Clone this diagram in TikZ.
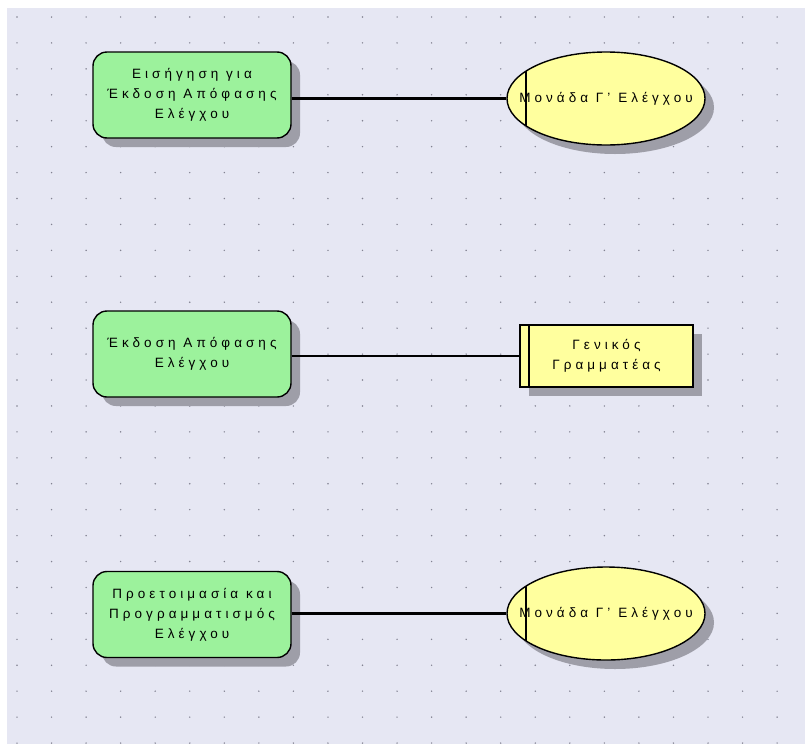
\documentclass[tikz,border=0pt]{standalone}
\usepackage{fontspec}
\setmainfont{Liberation Sans}
\usetikzlibrary{shapes.geometric,shadows}

\definecolor{canvasbg}{RGB}{230,231,243}
\definecolor{griddot}{RGB}{130,130,145}
\definecolor{actgreen}{RGB}{156,242,156}
\definecolor{roleyellow}{RGB}{255,255,158}
\definecolor{shadowgrey}{RGB}{158,158,168}

\tikzset{
  lbl/.style={font=\fontsize{13.5}{20}\selectfont\addfontfeature{LetterSpace=30}, align=center, text=black},
  sh/.style={drop shadow={shadow xshift=9pt, shadow yshift=-9pt, fill=shadowgrey, opacity=1}},
  activity/.style={lbl, sh, draw=black, line width=1.4pt, fill=actgreen,
    rounded corners=14pt, minimum width=198pt, minimum height=86pt, inner sep=0pt},
  unit/.style={lbl, sh, ellipse, draw=black, line width=1.4pt, fill=roleyellow,
    minimum width=198pt, minimum height=93pt, inner sep=0pt,
    path picture={\draw[line width=1.4pt] ([xshift=19pt]path picture bounding box.north west)
      -- ([xshift=19pt]path picture bounding box.south west);}},
  person/.style={lbl, sh, draw=black, line width=1.4pt, fill=roleyellow,
    minimum width=173pt, minimum height=62pt, inner sep=0pt,
    path picture={\draw[line width=1.4pt] ([xshift=9pt]path picture bounding box.north west)
      -- ([xshift=9pt]path picture bounding box.south west);}},
  link/.style={draw=black, line width=2.5pt}
}

\begin{document}
\begin{tikzpicture}[x=1pt,y=-1pt]
  \useasboundingbox (0,0) rectangle (805,747);
  \fill[white] (0,0) rectangle (805,747);
  \fill[canvasbg] (7,8) rectangle (805,744);
  % dotted drawing grid
  \foreach \i in {0,...,22}{
    \foreach \j in {0,...,28}{
      \fill[griddot] ({17+34.55*\i},{17+25.93*\j}) circle (0.8pt);
    }
  }

  % row 1
  \node[activity] (a1) at (192,95) {Εισήγηση για\\Έκδοση Απόφασης\\Ελέγχου};
  \node[unit] (u1) at (606,98.5) {\makebox[0pt]{Μονάδα Γ' Ελέγχου}};
  \draw[link] (a1.east |- u1.west) -- (u1.west);

  % row 2
  \node[activity] (a2) at (192,354) {Έκδοση Απόφασης\\Ελέγχου};
  \node[person] (p2) at (606.5,356) {Γενικός\\Γραμματέας};
  \draw[link] (a2.east |- p2.west) -- (p2.west);

  % row 3
  \node[activity] (a3) at (192,614.5) {Προετοιμασία και\\Προγραμματισμός\\Ελέγχου};
  \node[unit] (u3) at (606,613.5) {\makebox[0pt]{Μονάδα Γ' Ελέγχου}};
  \draw[link] (a3.east |- u3.west) -- (u3.west);
\end{tikzpicture}
\end{document}
